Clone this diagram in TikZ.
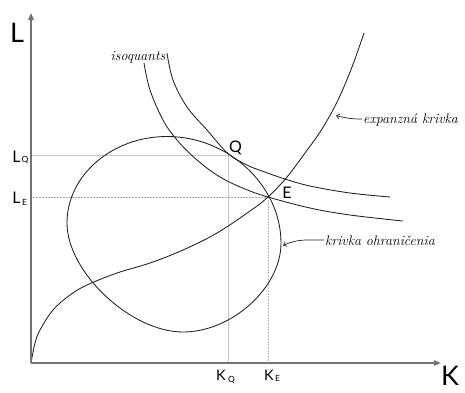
\documentclass[tikz,border=0pt]{standalone}
\usepackage{fontspec}
\newfontfamily\labfont{Lato}
\usetikzlibrary{arrows.meta}
\begin{document}
\begin{tikzpicture}[x=1pt,y=-1pt,
  axis/.style={draw=black!55,line width=1.3pt,-{Triangle[length=7pt,width=5.5pt]}},
  curve/.style={draw=black!88,line width=0.85pt},
  guide/.style={draw=black!22,line width=0.8pt},
  guidedot/.style={draw=black!35,line width=0.7pt,dash pattern=on 0.6pt off 0.9pt},
  guidedash/.style={draw=black!28,line width=0.6pt,dash pattern=on 1.5pt off 1.5pt},
  pointer/.style={draw=black!88,line width=0.7pt,-{Straight Barb[length=3pt,width=5pt]}},
  bigl/.style={font=\labfont\fontsize{27}{27}\selectfont,inner sep=0pt},
  midl/.style={font=\labfont\fontsize{16}{16}\selectfont,inner sep=0pt},
  smal/.style={font=\labfont\fontsize{14.5}{14.5}\selectfont,inner sep=0pt},
  subl/.style={font=\labfont\fontsize{8.5}{8.5}\selectfont,inner sep=0pt},
  ital/.style={font=\fontsize{14}{14}\selectfont\itshape,inner sep=0pt}]
\useasboundingbox (0,0) rectangle (465,392);
% key points
\coordinate (O) at (31,363);
\coordinate (Ytop) at (31,13);
\coordinate (Xend) at (441,363);
\coordinate (Q) at (228,155);
\coordinate (E) at (268,197);
\coordinate (LQ) at (31,155);
\coordinate (LE) at (31,197);
\coordinate (KQ) at (228,363);
\coordinate (KE) at (268,363);
% guides
\draw[guide] (LQ) -- (Q) -- (KQ);
\draw[guidedot] (LE) -- (E);
\draw[guidedash] (E) -- (KE);
% constraint curve (oval)
\coordinate (eT) at (167,136.5);
\coordinate (eR) at (281,243);
\coordinate (eB) at (183,332);
\coordinate (eL) at (67,223);
\draw[curve] (eT) .. controls (229,136.5) and (281,186) .. (eR)
  .. controls (281,287.5) and (232,332) .. (eB)
  .. controls (130.8,332) and (67,272) .. (eL)
  .. controls (67,175.5) and (111.8,136.5) .. (eT) -- cycle;
% isoquants
\draw[curve] plot[smooth,tension=0.6] coordinates {
 (167,53) (173,80) (187,107) (207,130) (228,153.5) (247,165) (262,171)
 (285,179) (310,186) (350,193) (390,197)};
\draw[curve] plot[smooth,tension=0.6] coordinates {
 (144,63) (150,90) (163,120) (177,140) (197,160) (220,177) (245,189)
 (268,197) (310,208) (350,215) (403,221)};
% expansion path
\draw[curve] plot[smooth,tension=0.6] coordinates {
 (31,363) (35,343) (40,330) (53,310) (70,295) (87,285) (117,273) (150,263)
 (183,250) (217,233) (250,211) (268,197) (287,177) (305,153) (322,129)
 (338,100) (352,67) (364,33)};
% axes
\draw[axis] (O) -- (Ytop);
\draw[axis] (O) -- (Xend);
% labels
\node[bigl] (Llab) at (17,33) {L};
\node[bigl] (Klab) at (450,376) {K};
\node[midl] (LQl) at (16.5,156.5) {L};
\node[subl] (LQs) at (25,160) {Q};
\node[midl] (LEl) at (16.5,197.5) {L};
\node[subl] (LEs) at (24.5,202) {E};
\node[smal] (KQl) at (221,375) {K};
\node[subl] (KQs) at (231.5,380) {Q};
\node[smal] (KEl) at (269,375) {K};
\node[subl] (KEs) at (277.5,378.5) {E};
\node[midl] (Qlab) at (235.5,147.5) {Q};
\node[midl] (Elab) at (287,193) {E};
\node[ital,anchor=east] (iso) at (165.5,57) {isoquants};
\node[ital,anchor=west] (exp) at (363,120) {expanzná krivka};
\node[ital,anchor=west] (ohr) at (325,241) {krivka ohraničenia};
\coordinate (expTip) at (336,115.5);
\coordinate (ohrTip) at (283,245.5);
\draw[pointer] (exp.west) ++(-1,-1) to[out=180,in=-15] (expTip);
\draw[pointer] (ohr.west) ++(-1,-1) to[out=180,in=25] (ohrTip);
\end{tikzpicture}
\end{document}
